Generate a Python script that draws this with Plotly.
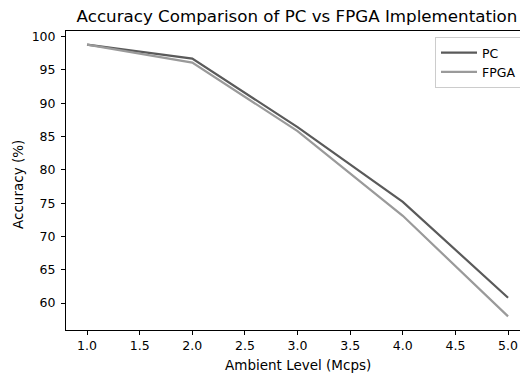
import plotly.graph_objects as go

ambient = [1.0, 2.0, 3.0, 4.0, 5.0]
pc_acc = [98.8, 96.7, 86.4, 75.2, 60.8]
fpga_acc = [98.8, 96.1, 85.8, 73.1, 58.0]
x_ticks = [1.0, 1.5, 2.0, 2.5, 3.0, 3.5, 4.0, 4.5, 5.0]
y_ticks = [60, 65, 70, 75, 80, 85, 90, 95, 100]

FONT = "DejaVu Sans"
W, H = 520, 374
# plot area in window pixels
PL, PT, PB, PR = 66, 31, 330, 520
L, T, B, R = PL, PT, H - PB, W - PR
PW, PH = PR - PL, PB - PT

fig = go.Figure()
fig.add_trace(go.Scatter(x=ambient, y=pc_acc, mode="lines", name="PC",
                         line=dict(color="#5a5a5a", width=2.2)))
fig.add_trace(go.Scatter(x=ambient, y=fpga_acc, mode="lines", name="FPGA",
                         line=dict(color="#9a9a9a", width=2.2)))

px_per_x = (508 - 87) / 4.0
x0 = 0.8
x1 = x0 + PW / px_per_x

fig.update_layout(
    width=W, height=H, autosize=False,
    margin=dict(l=L, r=R, t=T, b=B, pad=0, autoexpand=False),
    paper_bgcolor="white", plot_bgcolor="white",
    font=dict(family=FONT, size=12, color="black"),
    title=dict(text="Accuracy Comparison of PC vs FPGA Implementation",
               x=297 / W, xref="container", xanchor="center",
               y=1 - 16 / H, yref="container", yanchor="middle",
               font=dict(size=16.7, family=FONT, color="black")),
    xaxis=dict(range=[x0, x1], tickvals=x_ticks, ticktext=[f"{v:.1f}" for v in x_ticks],
               showgrid=False, zeroline=False, showline=True, linecolor="black",
               linewidth=1, mirror=True, ticks="outside", ticklen=4, tickcolor="black",
               tickfont=dict(size=12.5, family=FONT)),
    yaxis=dict(range=[55.96, 100.84], tickvals=y_ticks,
               showgrid=False, zeroline=False, showline=True, linecolor="black",
               linewidth=1, ticks="outside", ticklen=4, tickcolor="black",
               ticklabelstandoff=3,
               tickfont=dict(size=12.5, family=FONT)),
    legend=dict(x=(435 - PL) / PW, y=1 - (37 - PT) / PH,
                xanchor="left", yanchor="top", itemwidth=36,
                bgcolor="rgba(255,255,255,0.8)", bordercolor="#cccccc", borderwidth=1,
                font=dict(size=12.5, family=FONT), tracegroupgap=0),
    showlegend=True,
    annotations=[
        dict(text="Ambient Level (Mcps)", xref="paper", yref="paper",
             x=(298 - PL) / PW, y=(PB - 365) / PH, xanchor="center", yanchor="middle",
             showarrow=False, font=dict(size=13.5, family=FONT, color="black")),
        dict(text="Accuracy (%)", xref="paper", yref="paper",
             x=(18 - PL) / PW, y=(PB - 185) / PH, xanchor="center", yanchor="middle",
             textangle=-90, showarrow=False,
             font=dict(size=13.5, family=FONT, color="black")),
    ],
)

fig.write_html(
    "out.html",
    config={"displayModeBar": False},
    post_script="document.body.style.margin='0';document.body.style.overflow='hidden';",
)
